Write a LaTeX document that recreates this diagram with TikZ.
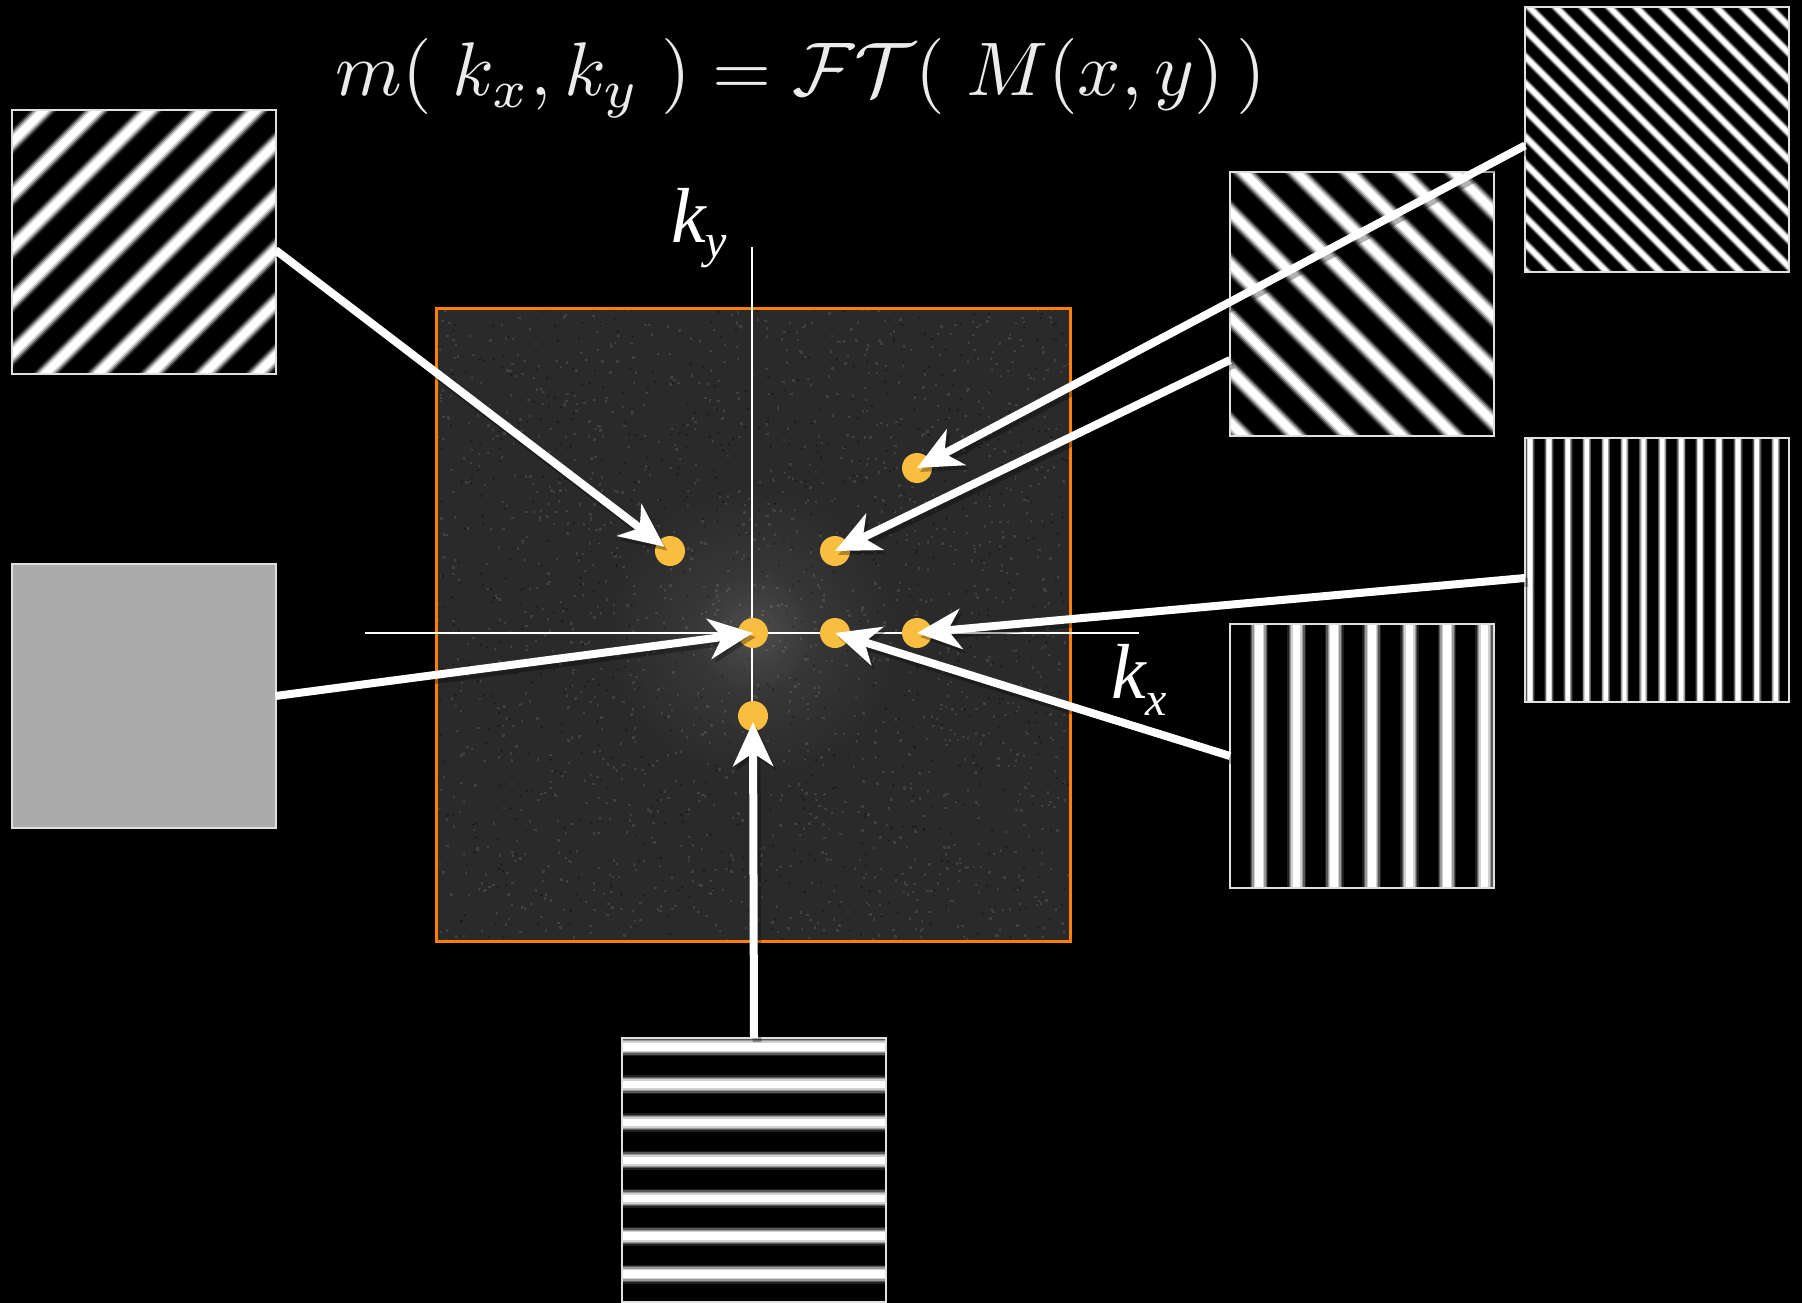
\documentclass[tikz,border=0pt]{standalone}
\usepackage{graphicx}
\usepackage{fontspec}
\newfontfamily\timesf{Liberation Serif}
\usetikzlibrary{arrows.meta,fadings}
\definecolor{dotyellow}{RGB}{249,190,64}
\definecolor{frameorange}{RGB}{255,127,0}
\definecolor{noisebase}{RGB}{42,42,42}
\definecolor{titlegray}{RGB}{235,235,235}
\tikzfading[name=glowfade, inner color=transparent!0, outer color=transparent!100]
\tikzset{
  imgbox/.style={minimum width=264pt, minimum height=264pt, inner sep=0pt, outer sep=0pt, draw=none},
  imgborder/.style={draw=white!88!black, line width=2pt},
  dotnode/.style={circle, fill=dotyellow, minimum size=30pt, inner sep=0pt, outer sep=0pt},
  axisline/.style={draw=white, line width=2.5pt},
  arrowline/.style={draw=white, line width=8pt, -{Stealth[length=44pt,width=40pt,inset=13pt]}},
  arrowshadow/.style={draw=black, opacity=0.3, line width=9pt, -{Stealth[length=44pt,width=40pt,inset=13pt]}, transform canvas={shift={(3pt,-4pt)}}},
  titlestyle/.style={text=titlegray, inner sep=0pt},
  klabel/.style={text=white, inner sep=0pt, anchor=base west}
}
% #1 node name, #2 rotation, #3 period, #4 phase
\newcommand\stripefill[4]{%
  \begin{scope}
    \clip (#1.south west) rectangle (#1.north east);
    \fill[black] (#1.south west) rectangle (#1.north east);
    \begin{scope}[shift={(#1.center)}, rotate=#2]
      \foreach \k in {-12,...,12}{%
        \pgfmathsetmacro\dd{#4+\k*#3}%
        \foreach \w/\c in {0.50/12,0.42/35,0.35/60,0.28/82,0.20/100}{%
          \draw[white!\c!black, line width={\w*#3pt}] (\dd,-220) -- (\dd,220);
        }%
      }
    \end{scope}
  \end{scope}
  \draw[imgborder] (#1.south west) rectangle (#1.north east);
}
\begin{document}
\begin{tikzpicture}[x=1pt,y=-1pt]
\useasboundingbox (0,0) rectangle (1802,1303);
\fill[black] (0,0) rectangle (1802,1303);

% central k-space square
\coordinate (sqa) at (436,308);
\coordinate (sqb) at (1070,941);
\fill[noisebase] (sqa) rectangle (sqb);
\begin{scope}
  \clip (sqa) rectangle (sqb);
  \pgfmathsetseed{17}
  \foreach \i in {1,...,1600}{%
    \pgfmathsetmacro\rx{436+634*rnd}%
    \pgfmathsetmacro\ry{308+633*rnd}%
    \fill[white!25!black] (\rx,\ry) rectangle ++(2.4,2.4);
  }
  \foreach \i in {1,...,700}{%
    \pgfmathsetmacro\rx{436+634*rnd}%
    \pgfmathsetmacro\ry{308+633*rnd}%
    \fill[black!90] (\rx,\ry) circle (1.2);
  }
  \fill[white, fill opacity=0.10, path fading=glowfade] (753,633) circle (150);
  \fill[white, fill opacity=0.08, path fading=glowfade] (753,633) circle (60);
\end{scope}
\draw[frameorange, line width=3pt] (sqa) rectangle (sqb);

% axes
\coordinate (axl) at (365,633);
\coordinate (axr) at (1139,633);
\coordinate (axt) at (752,247);
\coordinate (axb) at (752,1019);
\draw[axisline] (axl) -- (axr);
\draw[axisline] (axt) -- (axb);

% pattern images
\node[imgbox] (tl) at (143.5,242) {};
\node[imgbox] (gr) at (143.5,696) {};
\node[imgbox] (trb) at (1657,139.5) {};
\node[imgbox] (tra) at (1362,304) {};
\node[imgbox] (rvb) at (1657,570) {};
\node[imgbox] (rva) at (1362,756) {};
\node[imgbox] (bh) at (754,1170) {};

\stripefill{tl}{-45}{37.5}{23.8}
\stripefill{tra}{45}{37.3}{9.4}
\stripefill{trb}{45}{18.9}{3.2}
\stripefill{rva}{0}{37.6}{9.8}
\stripefill{rvb}{0}{18.9}{5.3}
\stripefill{bh}{-90}{37.9}{-9.6}
\fill[white!67!black] (gr.south west) rectangle (gr.north east);
\draw[imgborder] (gr.south west) rectangle (gr.north east);

% dots
\node[dotnode] (dmp) at (670,551) {};
\node[dotnode] (d00) at (753,633) {};
\node[dotnode] (d10) at (835,633) {};
\node[dotnode] (d20) at (917,633) {};
\node[dotnode] (d0m) at (753,716) {};
\node[dotnode] (d11) at (835,551) {};
\node[dotnode] (d22) at (917,468) {};

% arrow start points
\coordinate (stl) at ([yshift=-8pt]tl.east);
\coordinate (sgr) at (gr.east);
\coordinate (strb) at ([yshift=-6pt]trb.west);
\coordinate (stra) at ([yshift=-56pt]tra.west);
\coordinate (srvb) at ([yshift=-8pt]rvb.west);
\coordinate (srva) at (rva.west);
\coordinate (sbh) at (bh.north);

% arrow shadows
\draw[arrowshadow, shorten >=7pt] (stl) -- (dmp.center);
\draw[arrowshadow] (sgr) -- (d00.center);
\draw[arrowshadow] (strb) -- (d22.center);
\draw[arrowshadow] (stra) -- (d11.center);
\draw[arrowshadow] (srvb) -- (d20.center);
\draw[arrowshadow] (srva) -- (d10.center);
\draw[arrowshadow, shorten >=6pt] (sbh) -- (d0m.center);
% arrows
\draw[arrowline, shorten >=7pt] (stl) -- (dmp.center);
\draw[arrowline] (sgr) -- (d00.center);
\draw[arrowline] (strb) -- (d22.center);
\draw[arrowline] (stra) -- (d11.center);
\draw[arrowline] (srvb) -- (d20.center);
\draw[arrowline] (srva) -- (d10.center);
\draw[arrowline, shorten >=6pt] (sbh) -- (d0m.center);

% labels
\node[klabel] (ky) at (671,242) {\fontsize{78}{80}\selectfont\timesf\itshape k\raisebox{-15pt}{\fontsize{48}{48}\selectfont y}};
\node[klabel] (kx) at (1111,698) {\fontsize{78}{80}\selectfont\timesf\itshape k\raisebox{-17pt}{\fontsize{48}{48}\selectfont x}};
\node[titlestyle, anchor=base] (title) at (801,96) {\scalebox{7.6}{$m(\;k_x,k_y\;)=\mathcal{F}\mathcal{T}(\;M(x,y)\,)$}};
\end{tikzpicture}
\end{document}
